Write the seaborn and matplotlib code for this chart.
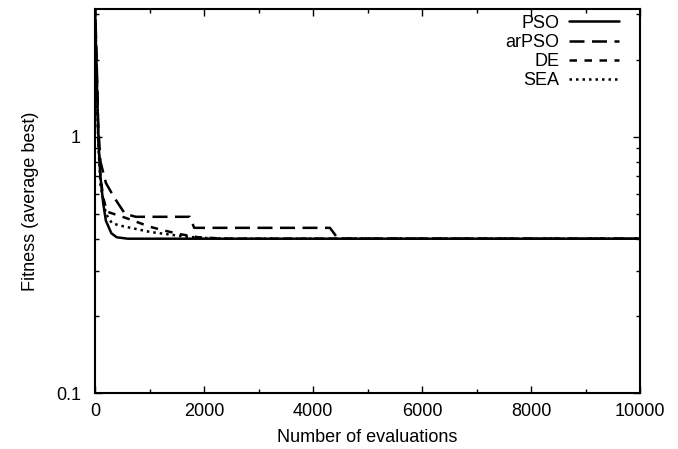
import numpy as np
import pandas as pd
import matplotlib
matplotlib.use("Agg")
import matplotlib.pyplot as plt
import seaborn as sns
from matplotlib.ticker import MultipleLocator, LogLocator, NullFormatter, FixedLocator, FixedFormatter
from matplotlib.lines import Line2D

# ---- data ----
pso_x = [0, 25, 50, 75, 100, 150, 200, 300, 400, 600, 10000]
pso_y = [3.2, 2.0, 1.2, 0.85, 0.7, 0.55, 0.47, 0.42, 0.405, 0.40, 0.40]

arpso_x = [0, 30, 60, 100, 200, 350, 550, 750, 1740, 1820, 4310, 4460, 10000]
arpso_y = [3.4, 2.0, 1.1, 0.8, 0.66, 0.58, 0.50, 0.487, 0.487, 0.441, 0.441, 0.40, 0.40]

de_x = [0, 30, 60, 100, 150, 220, 590, 1010, 1280, 1520, 1900, 2400, 10000]
de_y = [3.3, 1.8, 1.0, 0.7, 0.58, 0.51, 0.48, 0.445, 0.43, 0.418, 0.405, 0.40, 0.40]

sea_x = [0, 30, 60, 100, 200, 310, 460, 1010, 1560, 1930, 2530, 10000]
sea_y = [3.0, 1.6, 0.95, 0.65, 0.5, 0.46, 0.45, 0.425, 0.41, 0.403, 0.40, 0.40]

names = ["PSO", "arPSO", "DE", "SEA"]

frames = []
for n, xs, ys in zip(names, [pso_x, arpso_x, de_x, sea_x], [pso_y, arpso_y, de_y, sea_y]):
    frames.append(pd.DataFrame({"x": xs, "y": ys, "alg": n}))
df = pd.concat(frames, ignore_index=True)

sns.set_theme(style="white")
plt.rcParams["font.family"] = ["Liberation Sans", "DejaVu Sans"]
plt.rcParams["text.color"] = "black"
plt.rcParams["axes.labelcolor"] = "black"

FS = 13

fig = plt.figure(figsize=(6.78, 4.49), dpi=100)
ax = fig.add_axes([95 / 678, 1 - 393 / 449, (640 - 95) / 678, (393 - 9) / 449])

dashes = {"PSO": "", "arPSO": (6, 3), "DE": (3, 3), "SEA": (1, 1.6)}
palette = {n: "black" for n in names}
sns.lineplot(data=df, x="x", y="y", hue="alg", style="alg", dashes=dashes,
             palette=palette, estimator=None, sort=False, linewidth=1.8, ax=ax,
             legend=False)

ax.set_yscale("log")
ax.set_xlim(0, 10000)
ax.set_ylim(0.1, 3.15)

ax.xaxis.set_major_locator(MultipleLocator(2000))
ax.xaxis.set_minor_locator(MultipleLocator(1000))
ax.yaxis.set_major_locator(FixedLocator([0.1, 1]))
ax.yaxis.set_major_formatter(FixedFormatter(["0.1", "1"]))
ax.yaxis.set_minor_locator(LogLocator(base=10, subs=np.arange(2, 10)))
ax.yaxis.set_minor_formatter(NullFormatter())

ax.tick_params(which="both", direction="in", top=True, right=True, bottom=True, left=True,
               labelsize=FS, colors="black")
ax.tick_params(axis="x", pad=7)
ax.tick_params(axis="y", pad=10)
ax.tick_params(which="major", length=5, width=1)
ax.tick_params(which="minor", length=3, width=1)

for s in ax.spines.values():
    s.set_color("black")
    s.set_linewidth(1.5)

ax.set_xlabel("Number of evaluations", fontsize=FS, color="black", labelpad=7)
ax.set_ylabel("Fitness (average best)", fontsize=FS, color="black", labelpad=12)

handles = [Line2D([], [], color="black", lw=1.8, linestyle=(0, dashes[n]) if dashes[n] else "-")
           for n in names]
ax.legend(handles, names, loc="upper right", bbox_to_anchor=(0.985, 1.018), frameon=False,
          markerfirst=False, fontsize=FS, handlelength=2.8, handletextpad=0.5,
          labelspacing=0.12, borderaxespad=0.3)

fig.savefig("out.png", dpi=100)
